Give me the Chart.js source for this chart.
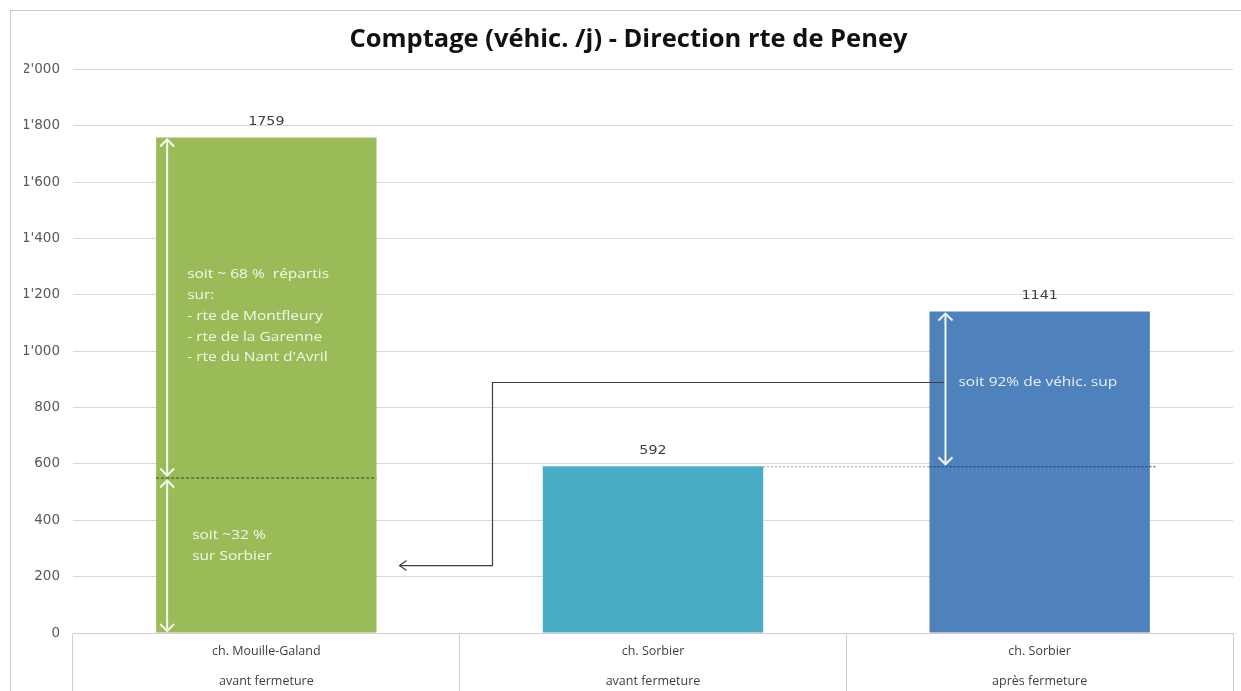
<!DOCTYPE html>
<html>
<head>
<meta charset="utf-8">
<script src="https://cdn.jsdelivr.net/npm/chart.js@4.4.0/dist/chart.umd.min.js"></script>
<style>
  html, body { margin: 0; padding: 0; background: #fff; }
  canvas { display: block; }
</style>
</head>
<body>
<canvas id="chart" width="1241" height="691"></canvas>
<script>
// données du comptage
const categories = [
  ['ch. Mouille-Galand', 'avant fermeture'],
  ['ch. Sorbier', 'avant fermeture'],
  ['ch. Sorbier', 'après fermeture'],
]
const counts = [1759, 592, 1141]
const barColors = ['#9bbb59', '#4bacc6', '#4f81bd']
const yTicks = [0, 200, 400, 600, 800, 1000, 1200, 1400, 1600, 1800, 2000]

// annotations
const splitValue = 552          // part ~32 % sur Sorbier
const linkValues = [891, 241]   // niveaux du trait de renvoi
const greenNotes = ['soit ~ 68 %  répartis', 'sur:', '- rte de Montfleury', '- rte de la Garenne', "- rte du Nant d'Avril"]
const greenNotesValue = 1272
const sorbierNotes = ['soit ~32 %', 'sur Sorbier']
const sorbierNotesValue = 345
const extraNote = 'soit 92% de véhic. sup'

const FONT = "'Open Sans', 'DejaVu Sans', sans-serif"
const WIDE = "'DejaVu Sans', sans-serif"

function fmtTick(v) {
  if (v < 1000) return String(v)
  return Math.floor(v / 1000) + "'" + String(v % 1000).padStart(3, '0')
}

function head(ctx, x, y, dir) {
  const s = 7
  ctx.beginPath()
  if (dir === 'up') { ctx.moveTo(x - s, y + s); ctx.lineTo(x, y); ctx.lineTo(x + s, y + s) }
  if (dir === 'down') { ctx.moveTo(x - s, y - s); ctx.lineTo(x, y); ctx.lineTo(x + s, y - s) }
  if (dir === 'left') { ctx.moveTo(x + s, y - s + 2); ctx.lineTo(x, y); ctx.lineTo(x + s, y + s - 2) }
  ctx.stroke()
}

function vArrow(ctx, x, y1, y2) {
  ctx.beginPath()
  ctx.moveTo(x, y1)
  ctx.lineTo(x, y2)
  ctx.stroke()
  head(ctx, x, y1, 'up')
  head(ctx, x, y2, 'down')
}

// texte étiré horizontalement (police large du modèle)
function wideText(ctx, s, x, y, sx) {
  ctx.save()
  ctx.translate(x, y)
  ctx.scale(sx, 1)
  ctx.fillText(s, 0, 0)
  ctx.restore()
}

const framePlugin = {
  id: 'frame',
  beforeDraw(chart) {
    const { ctx } = chart
    ctx.save()
    ctx.strokeStyle = '#c8c8c8'
    ctx.lineWidth = 1
    ctx.strokeRect(10.5, 10.5, 1400, 900)
    ctx.restore()
  }
}

const notesPlugin = {
  id: 'notes',
  afterDatasetsDraw(chart) {
    const { ctx } = chart
    const ys = chart.scales.y
    const bars = chart.getDatasetMeta(0).data
    const zero = ys.getPixelForValue(0)
    ctx.save()

    // valeurs au-dessus des barres
    ctx.font = '13px ' + WIDE
    ctx.fillStyle = '#404040'
    ctx.textAlign = 'center'
    ctx.textBaseline = 'middle'
    bars.forEach((b, i) => wideText(ctx, String(counts[i]), b.x, b.y - 16, 1.1))

    const g = bars[0], t = bars[1], bl = bars[2]
    const gLeft = g.x - g.width / 2, gRight = g.x + g.width / 2
    const ySplit = ys.getPixelForValue(splitValue)
    const y592 = ys.getPixelForValue(counts[1])

    // pointillés
    ctx.lineWidth = 1
    ctx.setLineDash([3, 2])
    ctx.strokeStyle = '#334420'
    ctx.beginPath(); ctx.moveTo(gLeft, ySplit + 0.5); ctx.lineTo(gRight, ySplit + 0.5); ctx.stroke()
    ctx.setLineDash([2, 2])
    ctx.strokeStyle = '#9a9a9a'
    ctx.beginPath(); ctx.moveTo(t.x + t.width / 2, y592 + 0.5); ctx.lineTo(bl.x - bl.width / 2, y592 + 0.5); ctx.stroke()
    ctx.strokeStyle = '#1f3a66'
    ctx.beginPath(); ctx.moveTo(bl.x - bl.width / 2, y592 + 0.5); ctx.lineTo(bl.x + bl.width / 2 + 6, y592 + 0.5); ctx.stroke()
    ctx.setLineDash([])

    // trait de renvoi
    const ax = bl.x - bl.width / 2 + 16
    const yA = ys.getPixelForValue(linkValues[0]) + 0.5
    const yB = ys.getPixelForValue(linkValues[1]) + 0.5
    const xMid = t.x - 160.5
    const xEnd = gRight + 23
    ctx.strokeStyle = '#404040'
    ctx.lineWidth = 1.2
    ctx.beginPath()
    ctx.moveTo(ax, yA); ctx.lineTo(xMid, yA); ctx.lineTo(xMid, yB); ctx.lineTo(xEnd, yB)
    ctx.stroke()
    head(ctx, xEnd, yB, 'left')

    // flèches blanches
    ctx.strokeStyle = '#f4f8ec'
    ctx.lineWidth = 2
    const gx = gLeft + 11
    vArrow(ctx, gx, g.y + 2, ySplit - 2)
    vArrow(ctx, gx, ySplit + 3, zero - 2)
    vArrow(ctx, ax, bl.y + 2, y592 - 2)

    // textes
    ctx.font = '12.5px ' + FONT
    ctx.textAlign = 'left'
    ctx.fillStyle = 'rgba(255,255,255,0.88)'
    const sx = 1.24
    let y0 = ys.getPixelForValue(greenNotesValue)
    greenNotes.forEach((s, i) => wideText(ctx, s, gLeft + 31, y0 + i * 20.8, sx))
    y0 = ys.getPixelForValue(sorbierNotesValue)
    sorbierNotes.forEach((s, i) => wideText(ctx, s, gLeft + 36, y0 + i * 21, sx))
    wideText(ctx, extraNote, bl.x - bl.width / 2 + 29, yA, sx)

    ctx.restore()
  }
}

new Chart(document.getElementById('chart').getContext('2d'), {
  type: 'bar',
  data: {
    labels: categories,
    datasets: [{
      data: counts,
      backgroundColor: barColors,
      categoryPercentage: 1,
      barPercentage: 0.57,
    }]
  },
  options: {
    responsive: false,
    animation: false,
    layout: { padding: { left: 24, right: 8, top: 0, bottom: 0 } },
    scales: {
      x: {
        grid: {
          offset: true,
          drawOnChartArea: false,
          tickLength: 58,
          color: '#cfcfcf',
        },
        border: { display: true, color: '#cfcfcf' },
        ticks: {
          padding: -54,
          color: '#404040',
          font: { family: FONT, size: 12.5, lineHeight: 2.35 },
        },
        afterFit(s) { s.height = 58 },
      },
      y: {
        min: 0,
        max: 2000,
        afterBuildTicks(s) { s.ticks = yTicks.map(v => ({ value: v })) },
        grid: { color: '#d9d9d9', drawTicks: false },
        border: { display: false },
        ticks: {
          padding: 13,
          color: '#595959',
          font: { family: WIDE, size: 13.5 },
          callback: v => fmtTick(v),
        },
        afterFit(s) { s.width = 49 },
      }
    },
    plugins: {
      legend: { display: false },
      tooltip: { enabled: false },
      title: {
        display: true,
        text: 'Comptage (véhic. /j) - Direction rte de Peney',
        color: '#111',
        font: { family: FONT, size: 25.5, weight: 'bold', lineHeight: 1.2 },
        padding: { top: 24, bottom: 15 },
      }
    }
  },
  plugins: [framePlugin, notesPlugin]
})
</script>
</body>
</html>
